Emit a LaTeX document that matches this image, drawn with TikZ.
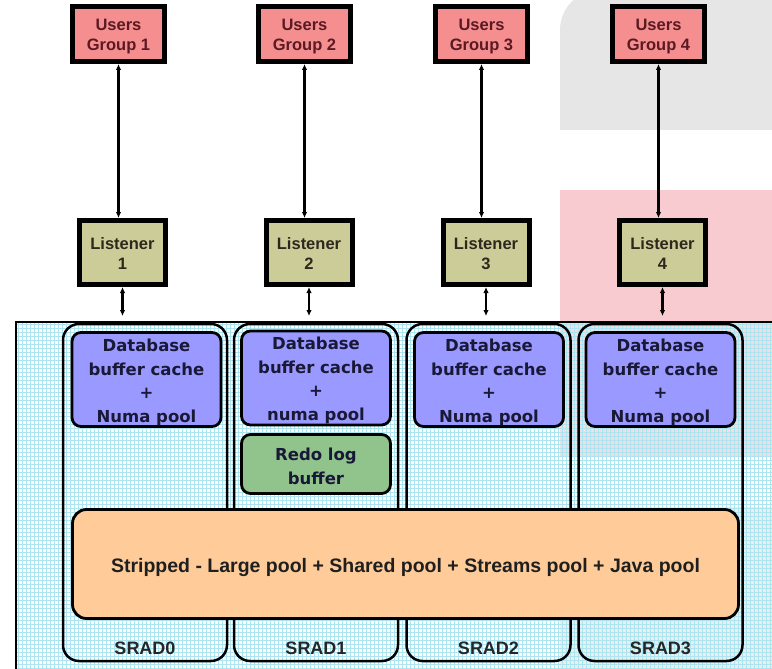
\documentclass[tikz,border=0pt]{standalone}
\usepackage{fontspec}
\setmainfont{Liberation Sans}
\newfontfamily\dvsans{DejaVu Sans}
\usetikzlibrary{arrows.meta}
\definecolor{usersfill}{RGB}{245,143,143}
\definecolor{userstext}{RGB}{90,25,35}
\definecolor{listfill}{RGB}{204,204,153}
\definecolor{listtext}{RGB}{45,40,30}
\definecolor{dbfill}{RGB}{153,153,255}
\definecolor{dbtext}{RGB}{25,25,55}
\definecolor{redofill}{RGB}{145,195,140}
\definecolor{orangefill}{RGB}{255,204,153}
\definecolor{gridc}{RGB}{172,228,240}
\definecolor{bggrey}{RGB}{230,230,230}
\definecolor{bgpink}{RGB}{248,203,208}
\begin{document}
\begin{tikzpicture}[x=1pt,y=-1pt,
  usersbox/.style={draw=black, line width=5, fill=usersfill, minimum width=92, minimum height=55, inner sep=0},
  userstxt/.style={inner sep=0, align=center, text=userstext, font=\bfseries\fontsize{16.5}{20}\selectfont},
  listbox/.style={draw=black, line width=5, fill=listfill, minimum width=86, minimum height=64, inner sep=0},
  listtxt/.style={inner sep=0, align=center, text=listtext, font=\bfseries\fontsize{16.5}{20}\selectfont},
  dbbox/.style={draw=black, line width=2.8, fill=dbfill, rounded corners=9, minimum width=149,
    minimum height=94, inner sep=0},
  dbtxt/.style={inner sep=0, align=center, text=dbtext, font=\dvsans\bfseries\fontsize{16.5}{23.5}\selectfont},
  redobox/.style={dbbox, fill=redofill, minimum height=59},
  sradbox/.style={draw=black, line width=2.5, rounded corners=16, minimum width=164,
    minimum height=337, inner sep=0},
  sradlabel/.style={text=black!85, font=\bfseries\fontsize{18}{20}\selectfont, inner sep=0},
  poolbox/.style={draw=black, line width=2.8, fill=orangefill, rounded corners=14, minimum width=666,
    minimum height=109, inner sep=0},
  pooltxt/.style={inner sep=0, text=black!88, font=\bfseries\fontsize{19.5}{22}\selectfont},
  biarrow/.style={line width=2.4, {Latex[length=6,width=5.5]}-{Latex[length=6,width=5.5]}}
]
\useasboundingbox (0,0) rectangle (772,669);
\fill[white] (0,0) rectangle (772,669);
% slide background decorations
\fill[bggrey] (560,130) [rounded corners=40] -- (560,-10) [sharp corners] -- (790,-10) -- (790,130) -- cycle;
\fill[bgpink] (560,190) rectangle (772,456);
\fill[bggrey] (560,507) rectangle (772,669);
% grid region
\fill[white, fill opacity=0.3] (16,322) rectangle (772,669);
\begin{scope}
  \clip (16,322) rectangle (772,669);
  \foreach \x in {18,22,...,774} \draw[gridc, line width=0.55] (\x,322) -- (\x,669);
  \foreach \y in {324,328,...,670} \draw[gridc, line width=0.55] (16,\y) -- (772,\y);
\end{scope}
\draw[line width=1.2] (772,322) -- (16,322) -- (16,669);

% users groups
\node[usersbox] (u1) at (118.5,34) {};
\node[usersbox] (u2) at (304.5,34) {};
\node[usersbox] (u3) at (481.5,34) {};
\node[usersbox] (u4) at (658.5,34) {};
\node[userstxt] (u1t) at (118.5,36.5) {Users\\Group 1};
\node[userstxt] (u2t) at (304.5,36.5) {Users\\Group 2};
\node[userstxt] (u3t) at (481.5,36.5) {Users\\Group 3};
\node[userstxt] (u4t) at (658.5,36.5) {Users\\Group 4};
% listeners
\node[listbox] (l1) at (122.5,252.5) {};
\node[listbox] (l2) at (309,252.5) {};
\node[listbox] (l3) at (486,252.5) {};
\node[listbox] (l4) at (662.5,252.5) {};
\node[listtxt] (l1t) at (122.5,253.5) {Listener\\1};
\node[listtxt] (l2t) at (309,253.5) {Listener\\2};
\node[listtxt] (l3t) at (486,253.5) {Listener\\3};
\node[listtxt] (l4t) at (662.5,253.5) {Listener\\4};

% SRAD boxes
\node[sradbox] (s0) at (145,492.5) {};
\node[sradbox] (s1) at (316,492.5) {};
\node[sradbox] (s2) at (488.5,492.5) {};
\node[sradbox] (s3) at (660.5,492.5) {};
\node[sradlabel] (t0) at (145,648) {SRAD0};
\node[sradlabel] (t1) at (316,648) {SRAD1};
\node[sradlabel] (t2) at (488.5,648) {SRAD2};
\node[sradlabel] (t3) at (660.5,648) {SRAD3};

% database buffers
\node[dbbox] (d0) at (146.5,379.5) {};
\node[dbbox] (d1) at (316,378) {};
\node[dbbox] (d2) at (489,379.5) {};
\node[dbbox] (d3) at (660.5,379.5) {};
\node[dbtxt] (d0t) at (146.5,382.5) {Database\\buffer cache\\+\\Numa pool};
\node[dbtxt] (d1t) at (316,380.5) {Database\\buffer cache\\+\\numa pool};
\node[dbtxt] (d2t) at (489,382.5) {Database\\buffer cache\\+\\Numa pool};
\node[dbtxt] (d3t) at (660.5,382.5) {Database\\buffer cache\\+\\Numa pool};
\node[redobox] (r1) at (316,464) {};
\node[dbtxt] (r1t) at (316,466.5) {Redo log\\buffer};
\node[poolbox] (p) at (405.5,564) {};
\node[pooltxt] (pt) at (405.5,567) {Stripped - Large pool + Shared pool + Streams pool + Java pool};

% connectors
\foreach \i in {1,2,3,4} {
  \draw[biarrow] (u\i.south) -- (u\i.south |- l\i.north);
}
\coordinate (a1) at (122.5,316);
\coordinate (a2) at (309,316);
\coordinate (a3) at (486,316);
\coordinate (a4) at (662.5,316);
\foreach \i in {1,2,3,4} {
  \draw[biarrow] (l\i.south) -- (a\i);
}
\end{tikzpicture}
\end{document}
